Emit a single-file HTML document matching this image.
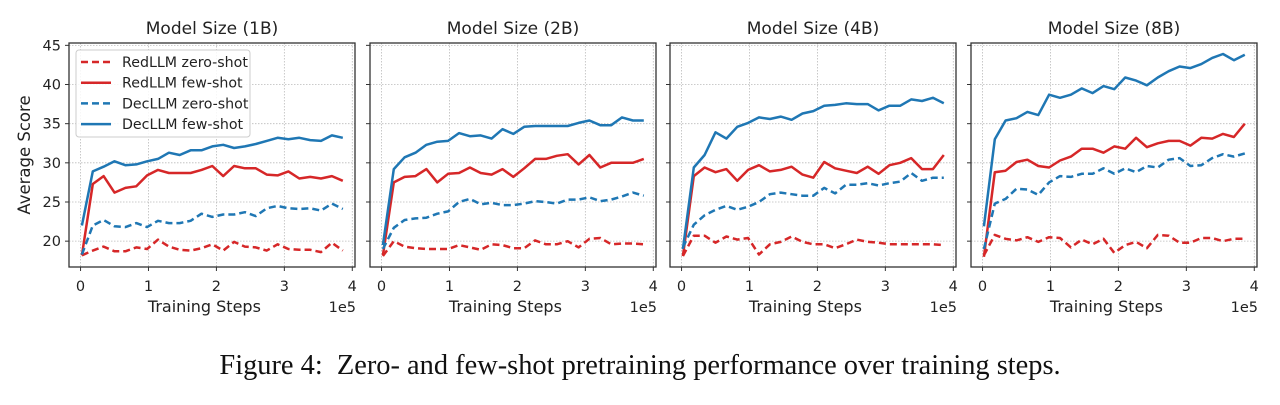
<!DOCTYPE html>
<html><head><meta charset="utf-8">
<style>
html,body{margin:0;padding:0;background:#fff;}
svg{display:block;font-family:"DejaVu Sans","Liberation Sans",sans-serif;}
.cap{position:absolute;left:0;top:350px;width:1280px;text-align:center;font-family:"Liberation Serif",serif;font-size:28.4px;color:#111;}
</style></head>
<body>
<div style="position:relative;width:1280px;height:405px;overflow:hidden">
<svg id="chart" width="1280" height="405"></svg>
<div class="cap">Figure 4:&nbsp; Zero- and few-shot pretraining performance over training steps.</div>
</div>
<script>
const panelTitles = ["Model Size (1B)","Model Size (2B)","Model Size (4B)","Model Size (8B)"];
const xTicks = [0,1,2,3,4];
const yTicks = [20,25,30,35,40,45];
const seriesNames = ["RedLLM zero-shot","RedLLM few-shot","DecLLM zero-shot","DecLLM few-shot"];
const redZero = [
 [18.2,18.8,19.3,18.7,18.7,19.2,19.0,20.2,19.3,18.9,18.8,19.1,19.6,18.8,19.9,19.3,19.2,18.8,19.6,19.0,18.9,18.9,18.6,19.8,18.8],
 [18.1,20.0,19.3,19.1,19.0,19.0,19.0,19.5,19.2,18.9,19.6,19.5,19.1,19.1,20.1,19.6,19.6,20.0,19.2,20.3,20.4,19.6,19.7,19.7,19.6],
 [18.1,20.7,20.7,19.8,20.6,20.2,20.4,18.3,19.6,19.9,20.6,19.9,19.6,19.6,19.1,19.6,20.2,19.9,19.8,19.6,19.6,19.6,19.6,19.6,19.5],
 [18.2,20.8,20.3,20.1,20.5,19.9,20.5,20.4,19.2,20.2,19.6,20.3,18.5,19.5,19.9,19.1,20.8,20.7,19.8,19.8,20.4,20.4,20.0,20.3,20.3]];
const redFew = [
 [18.2,27.3,28.3,26.2,26.8,27.0,28.4,29.1,28.7,28.7,28.7,29.1,29.6,28.3,29.6,29.3,29.3,28.5,28.4,28.9,28.0,28.2,28.0,28.3,27.7],
 [18.2,27.5,28.2,28.3,29.2,27.5,28.6,28.7,29.4,28.7,28.5,29.2,28.2,29.3,30.5,30.5,30.9,31.1,29.8,31.0,29.4,30.0,30.0,30.0,30.5],
 [18.1,28.3,29.4,28.8,29.2,27.7,29.1,29.7,28.9,29.1,29.5,28.5,28.1,30.1,29.3,29.0,28.7,29.5,28.6,29.7,30.0,30.6,29.2,29.2,31.0],
 [18.0,28.8,29.0,30.1,30.4,29.6,29.4,30.3,30.8,31.8,31.8,31.3,32.1,31.8,33.2,32.0,32.5,32.8,32.8,32.2,33.2,33.1,33.7,33.3,35.0]];
const decZero = [
 [18.3,22.0,22.7,21.9,21.8,22.3,21.8,22.6,22.3,22.3,22.6,23.5,23.1,23.4,23.4,23.7,23.2,24.2,24.5,24.2,24.1,24.2,23.9,24.8,24.1],
 [19.0,21.7,22.7,22.9,23.0,23.5,23.8,25.0,25.4,24.7,24.9,24.6,24.6,24.8,25.1,25.0,24.8,25.3,25.3,25.6,25.1,25.3,25.7,26.2,25.8],
 [19.2,22.1,23.3,24.0,24.5,24.0,24.4,25.0,26.0,26.2,26.0,25.8,25.8,26.8,26.1,27.2,27.2,27.4,27.1,27.4,27.6,28.7,27.7,28.1,28.1],
 [19.0,24.8,25.4,26.7,26.6,25.9,27.5,28.3,28.2,28.6,28.6,29.3,28.6,29.3,28.8,29.6,29.4,30.4,30.6,29.6,29.7,30.6,31.1,30.8,31.2]];
const decFew = [
 [22.0,28.9,29.5,30.2,29.7,29.8,30.2,30.5,31.3,31.0,31.6,31.6,32.1,32.3,31.9,32.1,32.4,32.8,33.2,33.0,33.2,32.9,32.8,33.5,33.2],
 [19.5,29.2,30.7,31.3,32.3,32.7,32.8,33.8,33.4,33.5,33.1,34.3,33.7,34.6,34.7,34.7,34.7,34.7,35.1,35.4,34.8,34.8,35.8,35.4,35.4],
 [19.0,29.4,31.0,33.9,33.1,34.6,35.1,35.8,35.6,35.9,35.5,36.3,36.6,37.3,37.4,37.6,37.5,37.5,36.7,37.3,37.3,38.1,37.9,38.3,37.6],
 [21.9,33.0,35.4,35.7,36.5,36.1,38.7,38.3,38.7,39.5,38.9,39.8,39.4,40.9,40.5,39.9,40.9,41.7,42.3,42.1,42.6,43.4,43.9,43.1,43.8]];
const steps = [0.02,0.18,0.34,0.50,0.66,0.82,0.98,1.14,1.30,1.46,1.62,1.78,1.94,2.10,2.26,2.42,2.58,2.74,2.90,3.06,3.22,3.38,3.54,3.70,3.86];

const NS="http://www.w3.org/2000/svg";
const svg=document.getElementById('chart');
function mk(tag,attrs,parent){const e=document.createElementNS(NS,tag);for(const k in attrs)e.setAttribute(k,attrs[k]);(parent||svg).appendChild(e);return e;}
const panelLefts=[69,370,670,971];
const PW=286, TOP=43, BOT=267;
const X0=-0.17, X1=4.04, Y0=16.7, Y1=45.3;
const RED="#d62728", BLUE="#1f77b4";
const styles=[{c:RED,d:"7,4"},{c:RED,d:""},{c:BLUE,d:"7,4"},{c:BLUE,d:""}];
const allSeries=[redZero,redFew,decZero,decFew];

panelLefts.forEach((L,p)=>{
  const sx=v=>L+(v-X0)/(X1-X0)*PW;
  const sy=v=>BOT-(v-Y0)/(Y1-Y0)*(BOT-TOP);
  const g=mk('g',{});
  
  
  xTicks.forEach(t=>{
    const gl=mk('line',{x1:sx(t),x2:sx(t),y1:TOP,y2:BOT,stroke:"#bbb","stroke-width":0.8,"stroke-dasharray":"1.5,1.5"},g);
    
    
    mk('line',{x1:sx(t),x2:sx(t),y1:BOT,y2:BOT+4,stroke:"#333","stroke-width":1},g);
    const tl=mk('text',{x:sx(t),y:BOT+24,"text-anchor":"middle","font-size":14.5,fill:"#222"},g);
    tl.textContent=t;
    
    
  });
  yTicks.forEach(t=>{
    const gl=mk('line',{x1:L,x2:L+PW,y1:sy(t),y2:sy(t),stroke:"#bbb","stroke-width":0.8,"stroke-dasharray":"1.5,1.5"},g);
    
    
    mk('line',{x1:L-4,x2:L,y1:sy(t),y2:sy(t),stroke:"#333","stroke-width":1},g);
    if(p===0){
      const tl=mk('text',{x:L-8,y:sy(t)+5,"text-anchor":"end","font-size":14.5,fill:"#222"},g);
      tl.textContent=t;
      
      
    }
  });
  allSeries.forEach((s,si)=>{
    const pts=s[p].map((v,i)=>sx(steps[i]).toFixed(1)+","+sy(v).toFixed(1)).join(" ");
    const pl=mk('polyline',{points:pts,fill:"none",stroke:styles[si].c,"stroke-width":2.5,"stroke-linejoin":"round"},g);
    if(styles[si].d)pl.setAttribute('stroke-dasharray',styles[si].d);
    
    
  });
  const fr=mk('rect',{x:L,y:TOP,width:PW,height:BOT-TOP,fill:"none",stroke:"#333","stroke-width":1.3},g);
  
  
  const tt=mk('text',{x:L+PW/2,y:TOP-9,"text-anchor":"middle","font-size":17,fill:"#222"},g);
  tt.textContent=panelTitles[p];
  
  
  const xl=mk('text',{x:sx(2)-12,y:BOT+45,"text-anchor":"middle","font-size":16,fill:"#222"},g);
  xl.textContent="Training Steps";
  
  
  const ex=mk('text',{x:L+PW+1,y:BOT+45,"text-anchor":"end","font-size":14.5,fill:"#222"},g);
  ex.textContent="1e5";
  
  
  if(p===0){
    const yl=mk('text',{x:0,y:0,"text-anchor":"middle","font-size":16.5,fill:"#222",transform:"translate(30,"+((TOP+BOT)/2)+") rotate(-90)"},g);
    yl.textContent="Average Score";
    
    
    const lg=mk('g',{},g);
    
    
    mk('rect',{x:76,y:50,width:174,height:87,rx:3,fill:"#fff","fill-opacity":0.85,stroke:"#ccc","stroke-width":1},lg);
    seriesNames.forEach((n,si)=>{
      const yy=62+si*20.7;
      const ln=mk('line',{x1:81,x2:111,y1:yy,y2:yy,stroke:styles[si].c,"stroke-width":2.5},lg);
      if(styles[si].d)ln.setAttribute('stroke-dasharray',styles[si].d);
      const tx=mk('text',{x:122,y:yy+5,"font-size":14.2,fill:"#222"},lg);
      tx.textContent=n;
      
      
    });
  }
});
</script>
</body></html>
